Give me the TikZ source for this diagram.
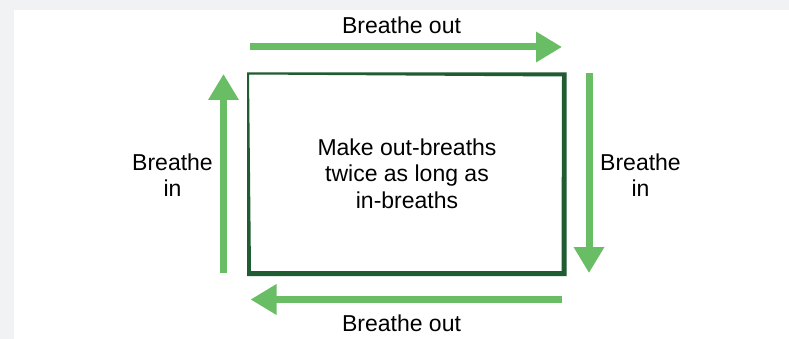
\documentclass[tikz,border=0pt]{standalone}
\usepackage{fontspec}
\setmainfont{Liberation Sans}
\usetikzlibrary{arrows.meta}
\definecolor{bggray}{HTML}{F1F2F4}
\definecolor{boxgreen}{HTML}{1F5C32}
\definecolor{arrgreen}{HTML}{69BD65}
\tikzset{
  breatharrow/.style={draw=arrgreen, line width=7pt, line cap=butt,
    -{Triangle[length=26pt,width=29pt,fill=arrgreen]}},
  lbl/.style={inner sep=0pt, align=center, font=\fontsize{23}{26.5}\selectfont, text=black}
}
\begin{document}
\begin{tikzpicture}[x=1pt,y=-1pt]
\useasboundingbox (0,0) rectangle (789,339);
\fill[bggray] (0,0) rectangle (789,339);
\fill[white] (14,10) rectangle (789,339);
% box frame (thicker at right and bottom)
\fill[boxgreen, even odd rule]
  (247,72.5) -- (566.5,72.5) -- (566.5,276) -- (247,276) -- cycle
  (249,74.5) -- (562,76.5) -- (561.5,271) -- (251,271) -- cycle;
% arrow end points
\coordinate (t1) at (250,47);
\coordinate (t2) at (562,47);
\coordinate (r1) at (589,73);
\coordinate (r2) at (589,273);
\coordinate (b1) at (562,299.5);
\coordinate (b2) at (250.5,299.5);
\coordinate (l1) at (223.5,273);
\coordinate (l2) at (223.5,74);
\draw[breatharrow] (t1) -- (t2);
\draw[breatharrow] (r1) -- (r2);
\draw[breatharrow] (b1) -- (b2);
\draw[breatharrow] (l1) -- (l2);
% labels
\node[lbl] (top) at (401.5,25) {Breathe out};
\node[lbl] (bottom) at (401.5,323.5) {Breathe out};
\node[lbl] (centre) at (407,173.5) {Make out-breaths\\twice as long as\\in-breaths};
\node[lbl] (left) at (172.5,175) {Breathe\\in};
\node[lbl] (right) at (640.5,175) {Breathe\\in};
\end{tikzpicture}
\end{document}
